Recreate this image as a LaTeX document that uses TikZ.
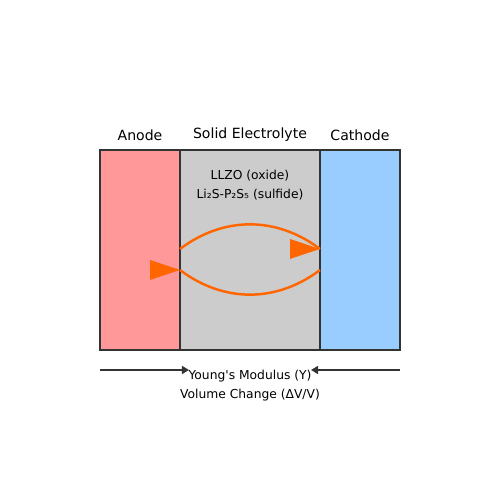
\documentclass[tikz,border=0pt]{standalone}
\usepackage{fontspec}
\setmainfont{DejaVu Sans}
\usetikzlibrary{positioning,arrows.meta}
\definecolor{anodered}{HTML}{FF9999}
\definecolor{electgray}{HTML}{CCCCCC}
\definecolor{cathblue}{HTML}{99CCFF}
\definecolor{ionorange}{HTML}{FF6600}
\definecolor{edgegray}{HTML}{333333}
\tikzset{
  layer/.style={draw=edgegray, line width=0.9pt, minimum height=4cm, outer sep=0pt, inner sep=0pt},
  title/.style={font=\fontsize{8}{9.6}\selectfont},
  small/.style={font=\fontsize{7}{8.4}\selectfont},
  ionpath/.style={ionorange, line width=1.4pt},
}
\begin{document}
\begin{tikzpicture}
    \useasboundingbox (0,0) rectangle (10,10);

    % cell layers
    \node[layer, fill=anodered, minimum width=1.6cm] (anode) at (2.8,5) {};
    \node[layer, fill=electgray, minimum width=2.8cm, right=0pt of anode] (electrolyte) {};
    \node[layer, fill=cathblue, minimum width=1.6cm, right=0pt of electrolyte] (cathode) {};

    \draw (2.8,7.3) node[title] (anodelbl) {Anode};
    \draw (5,7.3) node[title] (electlbl) {Solid Electrolyte};
    \draw (7.2,7.3) node[title] (cathlbl) {Cathode};

    \draw (5,6.48) node[small] (oxide) {LLZO (oxide)};
    \draw (5,6.1) node[small] (sulfide) {Li₂S-P₂S₅ (sulfide)};

    % ion paths
    \coordinate (upl) at (3.6,5.02);
    \coordinate (upr) at (6.4,5.02);
    \coordinate (lol) at (3.6,4.6);
    \coordinate (lor) at (6.4,4.6);
    \draw[ionpath] (upl) to[bend left=37] (upr);
    \draw[ionpath] (lol) to[bend right=37] (lor);
    \fill[ionorange] (upr) -- (5.8,5.22) -- (5.8,4.82) -- cycle;
    \fill[ionorange] (lol) -- (3.0,4.8) -- (3.0,4.4) -- cycle;

    % stress arrows
    \draw (5,2.48) node[small] (young) {Young\textquotesingle s Modulus (Y)};
    \draw (5,2.1) node[small] (volume) {Volume Change (ΔV/V)};
    \coordinate (leftend) at (2,2.6);
    \coordinate (rightend) at (8,2.6);
    \coordinate (lefttip) at (3.78,2.6);
    \coordinate (righttip) at (6.22,2.6);
    \draw[-{Triangle[length=4pt,width=4.5pt]}, edgegray, line width=0.9pt] (leftend) -- (lefttip);
    \draw[-{Triangle[length=4pt,width=4.5pt]}, edgegray, line width=0.9pt] (rightend) -- (righttip);
\end{tikzpicture}
\end{document}
